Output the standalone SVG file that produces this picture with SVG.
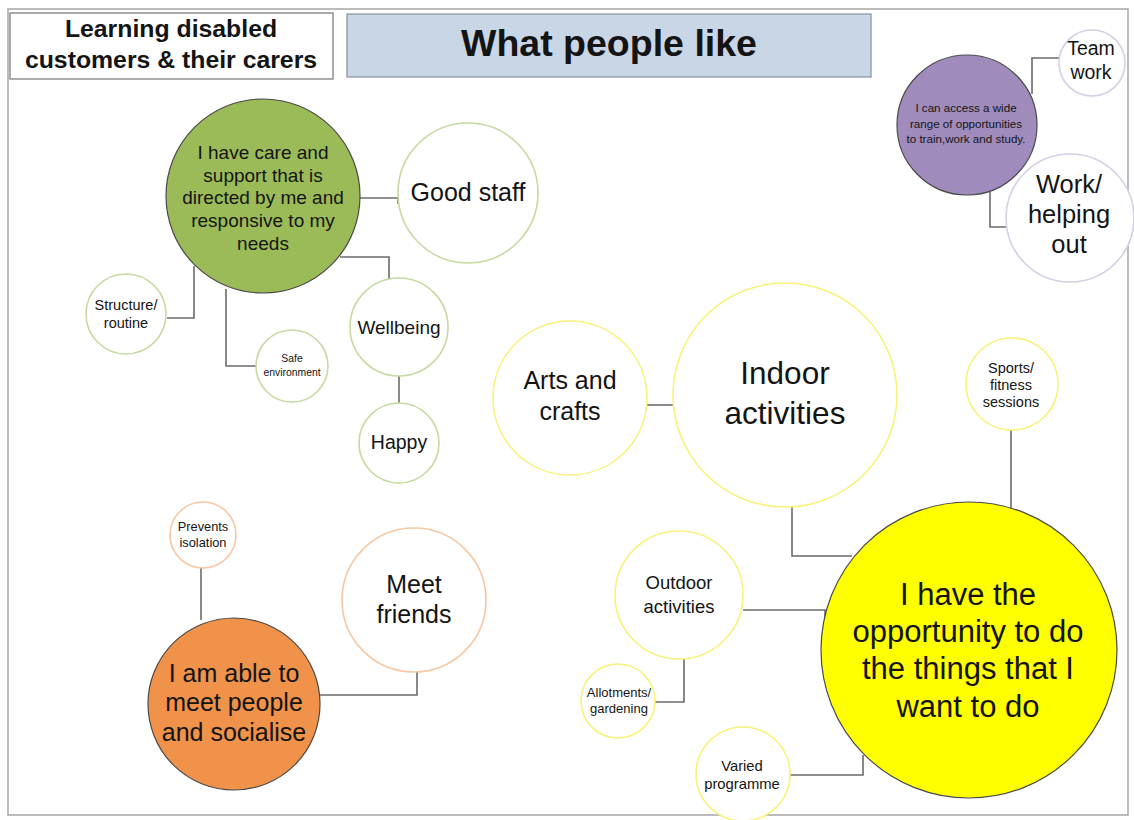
<svg xmlns="http://www.w3.org/2000/svg" width="1134" height="820" viewBox="0 0 1134 820">
  <style>
    text { font-family: "Liberation Sans", Arial, sans-serif; fill: #141414; text-anchor: middle; }
    .head { font-weight: bold; }
    .conn { fill: none; stroke: #6b6b6b; stroke-width: 1.6; }
    .hub { stroke: #4a4a4a; stroke-width: 1.2; }
    .leaf { fill: #ffffff; stroke-width: 1.6; }
    .g { stroke: #c6d9a0; }
    .y { stroke: #f8f27a; }
    .o { stroke: #f9c7a2; }
    .p { stroke: #d6cde6; }
  </style>

  <!-- page frame -->
  <rect x="8" y="9" width="1120" height="806" fill="#ffffff" stroke="#a6a6a6" stroke-width="1.5"/>

  <!-- headings -->
  <g id="heading-audience">
    <rect x="10" y="13" width="323" height="66" fill="#ffffff" stroke="#7f7f7f" stroke-width="1.3"/>
    <text class="head" x="171" y="37" font-size="24.8">Learning disabled</text>
    <text class="head" x="171" y="68" font-size="24.8">customers &amp; their carers</text>
  </g>
  <g id="heading-title">
    <rect x="347" y="14" width="524" height="63" fill="#c9d6e6" stroke="#8a97a8" stroke-width="1.3"/>
    <text class="head" x="609" y="56" font-size="37.5">What people like</text>
  </g>

  <!-- connectors (drawn beneath the circles) -->
  <g id="connectors">
    <polyline class="conn" points="360,198 398,198 398,204"/>
    <polyline class="conn" points="167,318 194,318 194,266"/>
    <polyline class="conn" points="226,289 226,366 256,366"/>
    <polyline class="conn" points="340,257 389,257 389,279"/>
    <line class="conn" x1="399" y1="376" x2="399" y2="403"/>
    <polyline class="conn" points="1032,94 1032,58 1060,58"/>
    <polyline class="conn" points="990,192 990,227 1010,227"/>
    <line class="conn" x1="646" y1="405" x2="674" y2="405"/>
    <polyline class="conn" points="792,507 792,556 852,556"/>
    <line class="conn" x1="1011" y1="430" x2="1011" y2="512"/>
    <polyline class="conn" points="743,610 825,610 825,640"/>
    <polyline class="conn" points="684,657 684,702 655,702"/>
    <polyline class="conn" points="790,775 863,775 863,755"/>
    <line class="conn" x1="201" y1="568" x2="201" y2="620"/>
    <polyline class="conn" points="320,695 417,695 417,671"/>
  </g>

  <!-- care and support cluster -->
  <g id="node-care">
    <circle class="hub" cx="263" cy="196" r="97" fill="#9bbb59"/>
    <text x="263" y="159" font-size="19">I have care and</text>
    <text x="263" y="182" font-size="19">support that is</text>
    <text x="263" y="204" font-size="19">directed by me and</text>
    <text x="263" y="227" font-size="19">responsive to my</text>
    <text x="263" y="250" font-size="19">needs</text>
  </g>
  <g id="node-good-staff">
    <circle class="leaf g" cx="468" cy="193" r="70"/>
    <text x="468" y="201" font-size="25">Good staff</text>
  </g>
  <g id="node-structure">
    <circle class="leaf g" cx="126" cy="314" r="40"/>
    <text x="126" y="310" font-size="14.5">Structure/</text>
    <text x="126" y="328" font-size="14.5">routine</text>
  </g>
  <g id="node-safe">
    <circle class="leaf g" cx="292" cy="366" r="36"/>
    <text x="292" y="362" font-size="10.4">Safe</text>
    <text x="292" y="376" font-size="10.4">environment</text>
  </g>
  <g id="node-wellbeing">
    <circle class="leaf g" cx="399" cy="327" r="49"/>
    <text x="399" y="334" font-size="19">Wellbeing</text>
  </g>
  <g id="node-happy">
    <circle class="leaf g" cx="399" cy="443" r="40"/>
    <text x="399" y="449" font-size="19.5">Happy</text>
  </g>

  <!-- training and work cluster -->
  <g id="node-opportunities">
    <circle class="hub" cx="967" cy="125" r="70" fill="#9f8cbd"/>
    <text x="966" y="112" font-size="11.6">I can access a wide</text>
    <text x="966" y="128" font-size="11.6">range of opportunities</text>
    <text x="966" y="143" font-size="11.6">to train,work and study.</text>
  </g>
  <g id="node-team-work">
    <circle class="leaf p" cx="1092" cy="63" r="33"/>
    <text x="1091" y="55" font-size="19.5">Team</text>
    <text x="1091" y="79" font-size="19.5">work</text>
  </g>
  <g id="node-work-helping">
    <circle class="leaf p" cx="1070" cy="218" r="64"/>
    <text x="1069" y="193" font-size="25.5">Work/</text>
    <text x="1069" y="223" font-size="25.5">helping</text>
    <text x="1069" y="253" font-size="25.5">out</text>
  </g>

  <!-- activities cluster -->
  <g id="node-arts">
    <circle class="leaf y" cx="570" cy="398" r="77"/>
    <text x="570" y="389" font-size="25">Arts and</text>
    <text x="570" y="420" font-size="25">crafts</text>
  </g>
  <g id="node-indoor">
    <circle class="leaf y" cx="785" cy="395" r="112"/>
    <text x="785" y="384" font-size="31.5">Indoor</text>
    <text x="785" y="424" font-size="31.5">activities</text>
  </g>
  <g id="node-sports">
    <circle class="leaf y" cx="1012" cy="384" r="46"/>
    <text x="1011" y="373" font-size="14.5">Sports/</text>
    <text x="1011" y="390" font-size="14.5">fitness</text>
    <text x="1011" y="407" font-size="14.5">sessions</text>
  </g>
  <g id="node-outdoor">
    <circle class="leaf y" cx="679" cy="595" r="64"/>
    <text x="679" y="589" font-size="18.5">Outdoor</text>
    <text x="679" y="613" font-size="18.5">activities</text>
  </g>
  <g id="node-allotments">
    <circle class="leaf y" cx="618" cy="701" r="37"/>
    <text x="619" y="697" font-size="13">Allotments/</text>
    <text x="619" y="713" font-size="13">gardening</text>
  </g>
  <g id="node-varied">
    <circle class="leaf y" cx="743" cy="774" r="47"/>
    <text x="742" y="771" font-size="14.8">Varied</text>
    <text x="742" y="789" font-size="14.8">programme</text>
  </g>
  <g id="node-do-things">
    <circle class="hub" cx="969" cy="650" r="148" fill="#ffff00"/>
    <text x="968" y="605" font-size="31">I have the</text>
    <text x="968" y="642" font-size="31">opportunity to do</text>
    <text x="968" y="679" font-size="31">the things that I</text>
    <text x="968" y="717" font-size="31">want to do</text>
  </g>

  <!-- social cluster -->
  <g id="node-socialise">
    <circle class="hub" cx="234" cy="704" r="86" fill="#f0924a"/>
    <text x="234" y="682" font-size="25">I am able to</text>
    <text x="234" y="711" font-size="25">meet people</text>
    <text x="234" y="741" font-size="25">and socialise</text>
  </g>
  <g id="node-isolation">
    <circle class="leaf o" cx="203" cy="535" r="33"/>
    <text x="203" y="531" font-size="12.8">Prevents</text>
    <text x="203" y="547" font-size="12.8">isolation</text>
  </g>
  <g id="node-meet-friends">
    <circle class="leaf o" cx="414" cy="600" r="72"/>
    <text x="414" y="593" font-size="25">Meet</text>
    <text x="414" y="623" font-size="25">friends</text>
  </g>
</svg>
